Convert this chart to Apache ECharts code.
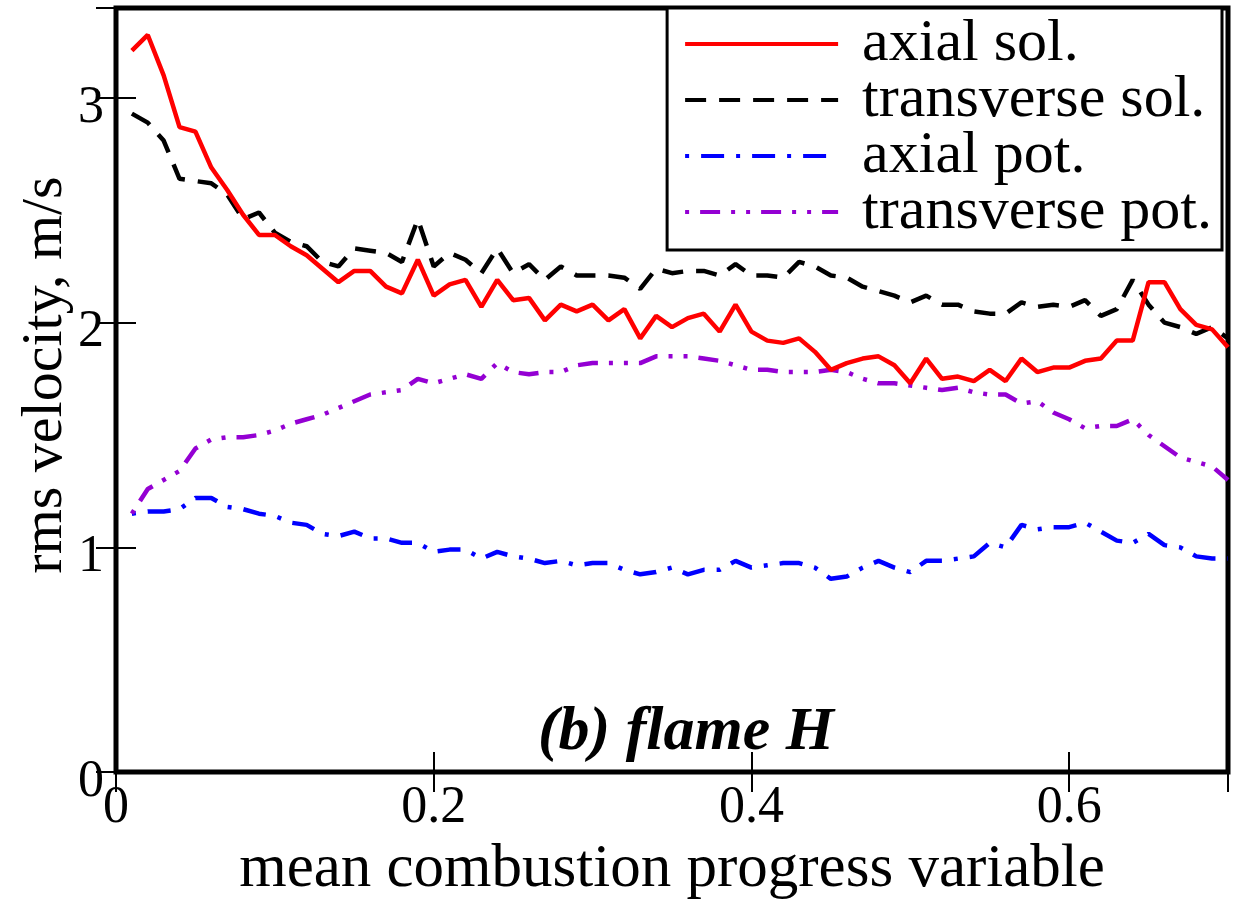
<!DOCTYPE html>
<html>
<head>
<meta charset="utf-8">
<script src="https://cdn.jsdelivr.net/npm/echarts@6/dist/echarts.min.js"></script>
<style>
  html, body { margin: 0; padding: 0; background: #fff; }
  #chart { width: 1237px; height: 905px; }
</style>
</head>
<body>
<div id="chart"></div>
<script>
// mean combustion progress variable
const xValues = [0.01,0.02,0.03,0.04,0.05,0.06,0.07,0.08,0.09,0.10,
  0.11,0.12,0.13,0.14,0.15,0.16,0.17,0.18,0.19,0.20,
  0.21,0.22,0.23,0.24,0.25,0.26,0.27,0.28,0.29,0.30,
  0.31,0.32,0.33,0.34,0.35,0.36,0.37,0.38,0.39,0.40,
  0.41,0.42,0.43,0.44,0.45,0.46,0.47,0.48,0.49,0.50,
  0.51,0.52,0.53,0.54,0.55,0.56,0.57,0.58,0.59,0.60,
  0.61,0.62,0.63,0.64,0.65,0.66,0.67,0.68,0.69,0.70];

const axialSol = [3.21,3.28,3.10,2.87,2.85,2.69,2.59,2.48,2.39,2.39,
  2.34,2.30,2.24,2.18,2.23,2.23,2.16,2.13,2.28,2.12,
  2.17,2.19,2.07,2.19,2.10,2.11,2.01,2.08,2.05,2.08,
  2.01,2.06,1.93,2.03,1.98,2.02,2.04,1.96,2.08,1.96,
  1.92,1.91,1.93,1.87,1.79,1.82,1.84,1.85,1.81,1.73,
  1.84,1.75,1.76,1.74,1.79,1.74,1.84,1.78,1.80,1.80,
  1.83,1.84,1.92,1.92,2.18,2.18,2.06,1.99,1.97,1.89];

const transverseSol = [2.93,2.89,2.81,2.64,2.63,2.62,2.57,2.46,2.49,2.40,
  2.36,2.34,2.27,2.25,2.33,2.32,2.31,2.27,2.46,2.25,
  2.31,2.28,2.22,2.33,2.22,2.26,2.19,2.25,2.21,2.21,
  2.21,2.20,2.15,2.24,2.22,2.23,2.23,2.21,2.26,2.21,
  2.21,2.20,2.27,2.25,2.21,2.20,2.16,2.14,2.12,2.09,
  2.12,2.08,2.08,2.05,2.04,2.04,2.09,2.07,2.08,2.07,
  2.10,2.03,2.06,2.19,2.08,2.00,1.98,1.95,1.98,1.93];

const axialPot = [1.15,1.16,1.16,1.17,1.22,1.22,1.18,1.17,1.15,1.14,
  1.11,1.10,1.06,1.05,1.07,1.04,1.04,1.02,1.02,0.98,
  0.99,0.99,0.95,0.98,0.96,0.95,0.93,0.94,0.92,0.93,
  0.93,0.90,0.88,0.89,0.91,0.88,0.90,0.90,0.94,0.91,
  0.92,0.93,0.93,0.91,0.86,0.87,0.91,0.94,0.91,0.89,
  0.94,0.94,0.95,0.96,1.02,1.00,1.10,1.08,1.09,1.09,
  1.11,1.07,1.03,1.02,1.06,1.01,1.00,0.96,0.95,0.95];

const transversePot = [1.15,1.26,1.30,1.34,1.44,1.48,1.49,1.49,1.50,1.52,
  1.55,1.57,1.59,1.62,1.65,1.68,1.69,1.70,1.75,1.73,
  1.75,1.77,1.75,1.82,1.78,1.77,1.78,1.78,1.81,1.82,
  1.82,1.82,1.82,1.85,1.85,1.85,1.84,1.83,1.81,1.79,
  1.79,1.78,1.78,1.78,1.79,1.78,1.75,1.73,1.73,1.72,
  1.71,1.70,1.71,1.69,1.68,1.68,1.64,1.65,1.60,1.57,
  1.53,1.54,1.54,1.57,1.50,1.45,1.40,1.38,1.36,1.30];

const seriesNames = ['axial sol.', 'transverse sol.', 'axial pot.', 'transverse pot.'];
const xTickLabels = ['0', '0.2', '0.4', '0.6'];
const yTickLabels = ['0', '1', '2', '3'];
const xTitle = 'mean combustion progress variable';
const yTitle = 'rms velocity, m/s';
const panelLabel = '(b) flame H';

const FONT = '"Liberation Serif", "Times New Roman", serif';

function pairs(ys) { return xValues.map((x, i) => [x, ys[i]]); }

const chart = echarts.init(document.getElementById('chart'), null, { renderer: 'canvas' });

const tickStyle = { show: true, inside: true, length: 20, lineStyle: { color: '#000', width: 2 } };

function lookup(list, ticksVals, v) {
  for (let i = 0; i < ticksVals.length; i++) {
    if (Math.abs(v - ticksVals[i]) < 1e-9) return list[i];
  }
  return '';
}

const option = {
  backgroundColor: '#fff',
  animation: false,
  grid: {
    left: 116, right: 9, top: 8, bottom: 120,
    show: true, borderColor: '#000', borderWidth: 5, backgroundColor: 'transparent'
  },
  xAxis: [{
    type: 'value', min: 0, max: 0.7, interval: 0.2, position: 'bottom',
    axisLine: { show: false },
    axisTick: tickStyle,
    splitLine: { show: false },
    axisLabel: {
      color: '#000', fontFamily: FONT, fontSize: 52, margin: 10, showMaxLabel: false,
      formatter: v => lookup(xTickLabels, [0, 0.2, 0.4, 0.6], v)
    },
    name: xTitle, nameLocation: 'middle', nameGap: 58,
    nameTextStyle: { color: '#000', fontFamily: FONT, fontSize: 61 }
  }, {
    type: 'value', min: 0, max: 0.7, interval: 0.2, position: 'top',
    axisLine: { show: false }, axisTick: tickStyle, splitLine: { show: false },
    axisLabel: { show: false }
  }],
  yAxis: [{
    type: 'value', min: 0, max: 3.4, interval: 1, position: 'left',
    axisLine: { show: false },
    axisTick: tickStyle,
    splitLine: { show: false },
    axisLabel: {
      color: '#000', fontFamily: FONT, fontSize: 52, margin: 12, showMaxLabel: false,
      verticalAlign: 'middle',
      formatter: function (v) {
        const t = lookup(yTickLabels, [0, 1, 2, 3], v);
        return t === '' ? '' : '{s| }\n{d|' + t + '}';
      },
      rich: {
        s: { fontSize: 8, lineHeight: 20 },
        d: { fontSize: 52, fontFamily: FONT, color: '#000', lineHeight: 60 }
      }
    }
  }, {
    type: 'value', min: 0, max: 3.4, interval: 1, position: 'right',
    axisLine: { show: false }, axisTick: tickStyle, splitLine: { show: false },
    axisLabel: { show: false }
  }],
  legend: {
    show: true,
    orient: 'vertical',
    right: 15, top: 8,
    data: seriesNames,
    backgroundColor: '#fff',
    borderColor: '#000', borderWidth: 3, borderRadius: 0,
    padding: [6, 10, 8, 16],
    itemWidth: 153, itemHeight: 14, itemGap: -4,
    selectedMode: false,
    itemStyle: { opacity: 0 },
    lineStyle: { width: 4 },
    textStyle: { color: '#000', fontFamily: FONT, fontSize: 60, lineHeight: 56, padding: [0, 0, 0, 19] }
  },
  graphic: [{
    type: 'text',
    x: 46, y: 375,
    rotation: Math.PI / 2,
    style: {
      text: yTitle, fill: '#000', font: '58px ' + FONT,
      textAlign: 'center', textVerticalAlign: 'middle'
    }
  }, {
    type: 'text',
    x: 686, y: 733,
    style: {
      text: panelLabel, fill: '#000', font: 'italic bold 62px ' + FONT,
      textAlign: 'center', textVerticalAlign: 'middle'
    }
  }],
  series: [{
    name: seriesNames[0], type: 'line', data: pairs(axialSol),
    symbol: 'none', lineStyle: { color: '#ff0000', width: 4.5, type: 'solid' },
    itemStyle: { color: '#ff0000' }, z: 4
  }, {
    name: seriesNames[1], type: 'line', data: pairs(transverseSol),
    symbol: 'none', lineStyle: { color: '#000000', width: 4.5, type: [21, 13] },
    itemStyle: { color: '#000000' }, z: 3
  }, {
    name: seriesNames[2], type: 'line', data: pairs(axialPot),
    symbol: 'none', lineStyle: { color: '#0000ff', width: 4.5, type: [4, 12, 23, 12] },
    itemStyle: { color: '#0000ff' }, z: 3
  }, {
    name: seriesNames[3], type: 'line', data: pairs(transversePot),
    symbol: 'none', lineStyle: { color: '#9400d3', width: 4.5, type: [4, 11, 20, 11, 4, 11] },
    itemStyle: { color: '#9400d3' }, z: 3
  }]
};

chart.setOption(option);
</script>
</body>
</html>
